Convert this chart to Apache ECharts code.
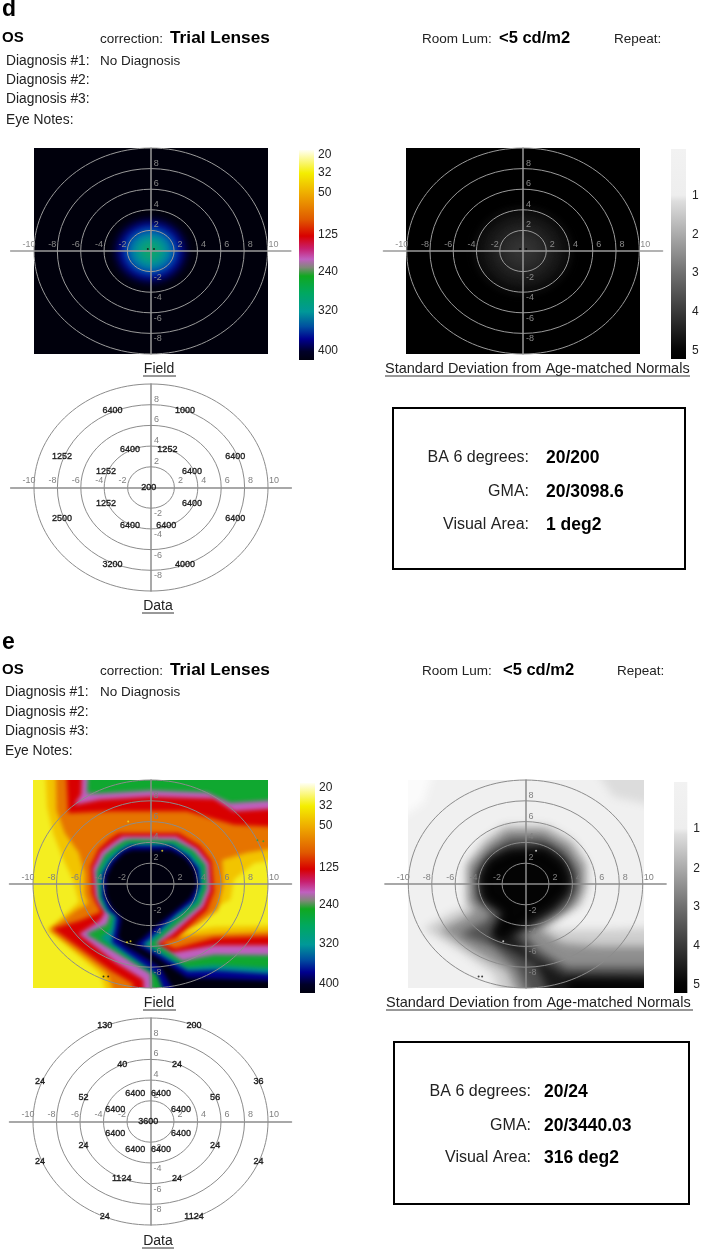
<!DOCTYPE html>
<html>
<head>
<meta charset="utf-8">
<style>
  html, body { margin: 0; padding: 0; background: #fff; }
  #chart { width: 703px; height: 1250px; }
</style>
<script src="https://cdn.jsdelivr.net/npm/echarts@6/dist/echarts.min.js"></script>
</head>
<body>
<div id="chart"></div>
<script>
// ---- data, all points in degrees of visual field ----
const ringRadii = [2, 4, 6, 8, 10];
const fullField = [[-10, -10], [10, -10], [10, 10], [-10, 10]];

// panel d, field and deviation map: soft blob round the fixation point
const fieldDLevels = [390, 370, 350, 330, 310, 285];
const fieldDRadii = [3.1, 2.7, 2.3, 1.8, 1.3, 0.8];
const devDLevels = [4.85, 4.7, 4.5, 4.3, 4.1, 3.95];
const devDRadii = [4.4, 3.8, 3.2, 2.6, 1.9, 1.1];

// panel e, field map contours
const fieldE45 = [[-9.1, 10], [-8.8, 7.4], [-8.3, 4.9], [-7.4, 2.3], [-6.6, 0.4], [-6.1, -1.7], [-7.1, -2.8], [-8.8, -4.4], [-4.3, -8.6], [-2.7, -10], [10, -10], [10, -3.9], [5.4, -4.1], [1.4, -4.9], [4.2, -3.1], [6.8, -1.5], [7.1, 0.4], [8.8, 2.0], [10, 3.0], [10, 10]];
const fieldE80 = [[-8.1, 10], [-8.0, 7.1], [-7.3, 4.9], [-6.1, 3.0], [-5.6, 1.0], [-5.6, -0.9], [-5.3, -1.9], [-6.3, -2.5], [-8.6, -4.4], [-3.7, -8.6], [-2.0, -10], [10, -10], [10, -4.4], [5.4, -4.8], [1.7, -5.2], [4.0, -3.9], [5.7, -2.5], [6.2, -0.1], [6.1, 2.3], [8.2, 3.0], [10, 4.1], [10, 10]];
const fieldE125Top = [[-7.3, 10], [-7.0, 6.8], [-3.4, 7.0], [3.1, 7.0], [7.1, 5.7], [10, 5.3], [10, 10]];
const fieldE125 = [[-2.7, 4.9], [2.4, 4.9], [4.2, 3.7], [5.2, 2.2], [5.4, -0.7], [4.8, -2.5], [3.4, -3.9], [2.2, -5.2], [0.8, -5.6], [2.1, -6.2], [5.4, -5.2], [10, -4.9], [10, -10], [-1.5, -10], [-1.5, -9.6], [-3.4, -8.3], [-8.3, -4.3], [-6.0, -3.5], [-4.2, -2.7], [-4.7, -1.7], [-5.0, -0.9], [-5.1, 1.7], [-4.4, 3.4], [-3.4, 4.4]];
const fieldE190Top = [[-5.7, 10], [-5.9, 8.6], [-6.5, 7.6], [-4.3, 8.1], [0, 8.4], [5.4, 8.2], [7.1, 7.0], [10, 7.5], [10, 10]];
const fieldE190 = [[-2.4, 4.6], [2.2, 4.6], [4.0, 3.4], [5.0, 2.0], [5.1, -0.6], [4.5, -2.2], [3.1, -3.6], [1.8, -4.9], [0.5, -5.8], [1.8, -6.6], [5.4, -5.9], [10, -5.9], [10, -10], [-0.5, -10], [-0.6, -9.2], [-2.9, -7.6], [-6.1, -4.8], [-4.3, -3.5], [-3.9, -2.7], [-4.4, -1.9], [-4.7, -1.1], [-4.9, 1.5], [-4.2, 3.1], [-3.2, 4.0]];
const fieldE250Top = [[-5.2, 10], [-5.4, 8.7], [-4.3, 8.7], [0, 9.0], [4.8, 8.8], [6.8, 7.8], [10, 8.3], [10, 10]];
const fieldE250 = [[-2.2, 4.2], [-1.5, 4.3], [2.1, 4.2], [3.7, 3.2], [4.7, 1.8], [4.8, -0.4], [4.2, -2.0], [2.8, -3.4], [1.5, -4.6], [0.4, -5.7], [1.4, -6.4], [2.7, -7.4], [5.4, -6.8], [10, -6.9], [10, -10], [0.3, -10], [0, -8.6], [-2.3, -7.0], [-5.5, -4.8], [-3.7, -3.9], [-3.4, -2.8], [-4.0, -2.2], [-4.4, -1.4], [-4.6, 1.2], [-3.9, 2.8], [-2.9, 3.7]];
const fieldE320 = [[-2.0, 3.9], [2.0, 3.9], [3.4, 3.0], [4.4, 1.7], [4.5, -0.3], [4.0, -1.8], [2.5, -3.1], [1.3, -4.4], [0.1, -5.6], [-0.3, -5.8], [1.1, -6.6], [3.0, -8.0], [5.4, -7.8], [10, -8.3], [10, -10], [1.7, -10], [1.4, -9.1], [-1.5, -7.3], [-4.3, -5.2], [-3.4, -4.4], [-3.2, -3.1], [-3.8, -2.6], [-4.2, -1.4], [-4.4, 1.0], [-3.7, 2.5], [-2.7, 3.4]];
const fieldE370 = [[-1.7, 3.7], [1.8, 3.7], [3.2, 2.7], [4.1, 1.5], [4.2, -0.2], [3.7, -1.6], [2.2, -2.9], [1.0, -4.2], [-0.2, -5.4], [-0.7, -5.8], [0.8, -6.8], [3.2, -8.4], [5.4, -8.3], [10, -8.9], [10, -10], [2.5, -10], [0.5, -8.6], [-2.2, -6.5], [-3.3, -5.6], [-3.0, -4.1], [-2.9, -3.1], [-3.6, -2.5], [-4.1, -1.2], [-4.1, 0.9], [-3.4, 2.2], [-2.5, 3.2]];
const fieldE400 = [[-1.6, 3.3], [1.7, 3.3], [3.0, 2.5], [3.8, 1.3], [4.0, -0.1], [3.4, -1.4], [2.0, -2.7], [0.7, -3.9], [-0.6, -5.2], [-1.3, -5.8], [0.5, -7.0], [3.1, -9.0], [10, -9.5], [10, -10], [4.0, -10], [0.8, -8.0], [-2.2, -5.9], [-2.8, -5.1], [-2.5, -3.3], [-3.3, -2.3], [-3.8, -1.1], [-3.8, 0.7], [-3.2, 2.0], [-2.3, 3.0]];

// panel e, deviation map contours
const devE07 = [[-10, 10], [-7, 10], [-8.7, 7.8], [-10, 3.9]];
const devE125 = [[4.1, 10], [10, 10], [10, 6.8], [7.5, 8.4]];
const devE15 = [[-1.9, 5.7], [1.9, 5.7], [4.1, 4.2], [5.3, 2.0], [5.3, -0.3], [4.8, -1.9], [3.2, -3.0], [1.8, -4.1], [2.9, -4.4], [7.2, -4.4], [10, -4.0], [10, -10], [-0.8, -10], [-2.8, -8.6], [-5.6, -6.4], [-8.7, -4.3], [-6.2, -2.7], [-5.0, -2.2], [-5.1, 1.7], [-3.6, 4.2]];
const devE25 = [[-1.6, 5.2], [1.6, 5.2], [3.8, 3.8], [5.0, 1.8], [5.0, -0.3], [4.4, -1.9], [2.6, -3.3], [1.2, -4.4], [3.2, -5.7], [6.3, -6.0], [10, -6.0], [10, -10], [0.7, -10], [-1.6, -8.3], [-4.5, -6.4], [-7.3, -4.4], [-5.0, -3.1], [-4.3, -2.5], [-4.9, -1.7], [-4.9, 1.8], [-3.2, 3.9]];
const devE35 = [[-1.3, 4.4], [1.4, 4.4], [3.2, 3.3], [4.4, 1.3], [4.4, -0.6], [3.5, -2.2], [1.5, -3.6], [-0.2, -4.8], [1.2, -6.4], [3.5, -8.0], [10, -8.0], [10, -10], [1.8, -10], [-0.8, -8.0], [-2.8, -6.0], [-5.6, -4.8], [-3.3, -3.5], [-2.9, -2.8], [-4.2, -1.5], [-4.3, 1.3], [-2.9, 3.3]];
const devE45 = [[-1.6, 3.4], [1.8, 3.6], [3.4, 2.3], [4.0, 0.7], [3.8, -0.9], [2.6, -2.3], [0.7, -3.8], [-1.1, -4.9], [0.7, -7.0], [3.5, -8.8], [10, -8.9], [10, -10], [3.5, -10], [0.9, -7.8], [-1.9, -5.9], [-3.0, -5.1], [-2.2, -3.3], [-1.9, -2.7], [-3.8, -1.4], [-4.0, 0.7], [-3.3, 2.3]];
const devE50 = [[-1.3, 3.1], [1.5, 3.3], [3.1, 2.0], [3.6, 0.5], [3.4, -0.7], [2.1, -2.2], [0.4, -3.3], [-1.5, -4.9], [-1.9, -5.4], [-2.8, -4.8], [-1.8, -2.8], [-3.5, -1.4], [-3.7, 0.7], [-3.0, 2.2]];
const devE50Corner = [[3.5, -9.2], [10, -9.4], [10, -10], [4.4, -10]];

// stray specks on the maps
const specksD = [[-0.25, 0.2], [0.28, 0.2]];
const specksFieldEYellow = [[-1.7, -5.5], [-2, -5.6], [1, 3.2], [-1.9, 6.0]];
const specksFieldEDark = [[-4, -8.9], [-3.6, -8.9]];
const specksFieldEGreen = [[9.1, 4.2], [9.6, 4.1]];
const specksDevELight = [[0.9, 3.2], [-1.9, -5.5]];
const specksDevEDark = [[-4, -8.9], [-3.7, -8.9]];

// threshold values printed on the data plots: x, y, value
const dataD = [
  [-3.3, 7.4, '6400'], [2.9, 7.4, '1000'], [-7.6, 3.0, '1252'], [7.2, 3.0, '6400'],
  [-1.8, 3.7, '6400'], [1.4, 3.7, '1252'], [-3.85, 1.55, '1252'], [3.5, 1.55, '6400'],
  [-0.2, 0, '200'], [-3.85, -1.55, '1252'], [3.5, -1.55, '6400'], [-1.8, -3.7, '6400'],
  [1.3, -3.7, '6400'], [-7.6, -3.0, '2500'], [7.2, -3.0, '6400'], [-3.3, -7.4, '3200'], [2.9, -7.4, '4000']
];
const dataE = [
  [-3.9, 9.25, '130'], [3.7, 9.25, '200'], [-2.4, 5.5, '40'], [2.26, 5.5, '24'],
  [-9.4, 3.9, '24'], [9.2, 3.9, '36'], [-5.7, 2.3, '52'], [5.5, 2.3, '56'],
  [-1.3, 2.75, '6400'], [0.9, 2.75, '6400'], [-3.0, 1.2, '6400'], [2.6, 1.2, '6400'],
  [-0.2, 0, '3600'], [-3.0, -1.13, '6400'], [2.6, -1.13, '6400'], [-1.3, -2.75, '6400'],
  [0.9, -2.75, '6400'], [-5.7, -2.3, '24'], [5.5, -2.3, '24'], [-9.4, -3.9, '24'],
  [9.2, -3.9, '24'], [-2.45, -5.5, '1124'], [2.26, -5.5, '24'], [-3.9, -9.2, '24'], [3.7, -9.2, '1124']
];

// colour bars
const fieldBarLabels = ['20', '32', '50', '125', '240', '320', '400'];
const fieldBarTicks = [0.024, 0.108, 0.204, 0.405, 0.58, 0.765, 0.955];
const devBarLabels = ['1', '2', '3', '4', '5'];
const devBarTicks = [0.22, 0.41, 0.59, 0.775, 0.96];

// ---- styles ----
const fieldColors = {
  32: '#f4ee20', 45: '#f2c400', 80: '#e67400', 125: '#d80000', 190: '#c060c0', 250: '#10a830', 285: '#12a468',
  310: '#009a90', 320: '#009090', 330: '#0080a8', 350: '#0048b0', 370: '#000090', 390: '#000048', 400: '#00000e', 420: '#00000c'
};
const devColors = {
  0.7: '#fbfbfb', 1: '#f0f0f0', 1.25: '#dcdcdc', 1.5: '#cecece', 2.5: '#8e8e8e', 3.5: '#505050', 3.95: '#343434', 4.1: '#2c2c2c',
  4.3: '#222222', 4.5: '#1a1a1a', 4.7: '#121212', 4.85: '#0a0a0a', 5: '#040404', 5.2: '#000000'
};
const fieldBarStops = [
  [0, '#fffff4'], [0.03, '#fdfbb0'], [0.11, '#f4ee00'], [0.21, '#eeaa00'], [0.33, '#e05a00'], [0.41, '#d80000'], [0.47, '#c82070'],
  [0.52, '#c060c0'], [0.56, '#808878'], [0.6, '#10a820'], [0.68, '#00a860'], [0.77, '#009898'], [0.84, '#0050a0'], [0.9, '#000090'],
  [0.96, '#000028'], [1, '#000010']
];
const devBarStops = [[0, '#f2f2f2'], [0.22, '#eeeeee'], [0.25, '#dddddd'], [0.41, '#aaaaaa'], [0.59, '#707070'], [0.78, '#383838'], [0.95, '#060606'], [1, '#000000']];

const FONT = '"Liberation Sans", Arial, sans-serif';
const GRID_GRAY = '#8c8c8c';
const OFFSCREEN = 3000; // shapes are drawn off canvas, only their blurred shadow lands on the map

const grid = [];
const xAxis = [];
const yAxis = [];
const series = [];

function hiddenAxis(gridIndex, min, max, inverse) {
  return { type: 'value', gridIndex, min, max, inverse: !!inverse, show: false };
}

// points on the map border are pushed past it so the blur does not fade at the edge
function pastEdge(v) {
  return Math.abs(v) === 10 ? v * 1.4 : v;
}

// image layer: exact -10..10 rectangle so the blur stays clipped inside it
function addMap(rect, bands, colors, blur) {
  const idx = grid.length;
  grid.push({ left: rect.x0, top: rect.y0, width: rect.x1 - rect.x0, height: rect.y1 - rect.y0 });
  xAxis.push(hiddenAxis(idx, -10, 10));
  yAxis.push(hiddenAxis(idx, -10, 10));
  series.push({
    type: 'custom',
    coordinateSystem: 'cartesian2d',
    xAxisIndex: idx,
    yAxisIndex: idx,
    clip: true,
    silent: true,
    z: 1,
    data: bands.map((b, i) => [0, 0, i]),
    renderItem(params, api) {
      const band = bands[params.dataIndex];
      const color = colors[band[0]];
      const style = { fill: color, shadowBlur: blur, shadowColor: color, shadowOffsetX: OFFSCREEN };
      if (band[2]) {
        const c = api.coord([0, 0]);
        const s = api.size([band[2], band[2]]);
        return { type: 'ellipse', shape: { cx: c[0] - OFFSCREEN, cy: c[1], rx: s[0], ry: s[1] }, style };
      }
      const points = band[1].map((p) => {
        const c = api.coord([pastEdge(p[0]), pastEdge(p[1])]);
        return [c[0] - OFFSCREEN, c[1]];
      });
      return { type: 'polygon', shape: { points }, style };
    },
  });
}

function signedLabel(limit) {
  return (v) => {
    if (v === 0 || Math.abs(v) > limit) return '';
    return v < 0 ? `{neg|${v}}` : `{pos|${v}}`;
  };
}

// axes cross and the isopter rings, axis runs out to +-12 horizontally
function addRings(rect, lineColor, tickColor, values, specks) {
  const idx = grid.length;
  const ppd = (rect.x1 - rect.x0) / 20;
  const cx = (rect.x0 + rect.x1) / 2;
  const height = rect.y1 - rect.y0;
  grid.push({ left: cx - 12 * ppd, top: rect.y0, width: 24 * ppd, height });
  xAxis.push({
    type: 'value', gridIndex: idx, min: -12, max: 12, interval: 2, z: 5,
    offset: -height / 2,
    axisLine: { onZero: false, lineStyle: { color: lineColor, width: 1.5 } },
    axisTick: { show: false },
    splitLine: { show: false },
    axisLabel: {
      inside: true,
      margin: 2,
      formatter: signedLabel(10),
      rich: {
        neg: { color: tickColor, fontSize: 9, fontFamily: FONT, padding: [0, 10, 0, 0] },
        pos: { color: tickColor, fontSize: 9, fontFamily: FONT, padding: [0, 0, 0, 12] },
      },
    },
  });
  yAxis.push({
    type: 'value', gridIndex: idx, min: -10, max: 10, interval: 2, z: 5,
    offset: -12 * ppd,
    axisLine: { onZero: false, lineStyle: { color: lineColor, width: 1.5 } },
    axisTick: { show: false },
    splitLine: { show: false },
    axisLabel: {
      inside: true,
      margin: 3,
      formatter: signedLabel(8),
      rich: {
        neg: { color: tickColor, fontSize: 9, fontFamily: FONT, padding: [11, 0, 0, 0] },
        pos: { color: tickColor, fontSize: 9, fontFamily: FONT, padding: [0, 0, 11, 0] },
      },
    },
  });
  series.push({
    type: 'custom',
    coordinateSystem: 'cartesian2d',
    xAxisIndex: idx,
    yAxisIndex: idx,
    silent: true,
    z: 6,
    data: ringRadii.map((r) => [0, 0, r]),
    renderItem(params, api) {
      const c = api.coord([0, 0]);
      const s = api.size([api.value(2), api.value(2)]);
      return {
        type: 'ellipse',
        shape: { cx: c[0], cy: c[1], rx: s[0], ry: s[1] },
        style: { fill: 'none', stroke: lineColor, lineWidth: 1 },
      };
    },
  });
  (specks || []).forEach((s) => {
    series.push({
      type: 'scatter',
      xAxisIndex: idx,
      yAxisIndex: idx,
      silent: true,
      z: 7,
      symbolSize: 2,
      itemStyle: { color: s.color },
      data: s.points,
    });
  });
  if (values) {
    series.push({
      type: 'scatter',
      xAxisIndex: idx,
      yAxisIndex: idx,
      silent: true,
      z: 7,
      symbolSize: 1,
      itemStyle: { color: 'transparent' },
      data: values,
      label: {
        show: true,
        position: 'inside',
        formatter: (p) => p.value[2],
        color: '#000',
        fontSize: 9,
        fontFamily: FONT,
        textBorderColor: '#000',
        textBorderWidth: 0.4,
      },
    });
  }
}

function addBar(x0, x1, y0, y1, stops, labels, ticks, margin) {
  const idx = grid.length;
  grid.push({ left: x0, top: y0, width: x1 - x0, height: y1 - y0 });
  xAxis.push(hiddenAxis(idx, 0, 1));
  yAxis.push({
    type: 'value', gridIndex: idx, min: 0, max: 1, inverse: true, position: 'right',
    axisLine: { show: false },
    axisTick: { show: false },
    splitLine: { show: false },
    axisLabel: {
      customValues: ticks,
      margin,
      color: '#222',
      fontSize: 12,
      fontFamily: FONT,
      formatter: (v) => labels[ticks.indexOf(v)],
    },
  });
  series.push({
    type: 'custom',
    coordinateSystem: 'cartesian2d',
    xAxisIndex: idx,
    yAxisIndex: idx,
    silent: true,
    data: [[0, 0, 1, 1]],
    renderItem(params, api) {
      const a = api.coord([0, 0]);
      const b = api.coord([1, 1]);
      return {
        type: 'rect',
        shape: { x: a[0], y: a[1], width: b[0] - a[0], height: b[1] - a[1] },
        style: {
          fill: new echarts.graphic.LinearGradient(0, 0, 0, 1, stops.map((s) => ({ offset: s[0], color: s[1] }))),
        },
      };
    },
  });
}

const fieldDBands = [[420, fullField]].concat(fieldDLevels.map((l, i) => [l, null, fieldDRadii[i]]));
const devDBands = [[5.2, fullField]].concat(devDLevels.map((l, i) => [l, null, devDRadii[i]]));
const fieldEBands = [
  [32, fullField], [45, fieldE45], [80, fieldE80], [125, fieldE125Top], [125, fieldE125], [190, fieldE190Top], [190, fieldE190],
  [250, fieldE250Top], [250, fieldE250], [320, fieldE320], [370, fieldE370], [400, fieldE400],
];
const devEBands = [
  [1, fullField], [0.7, devE07], [1.25, devE125], [1.5, devE15], [2.5, devE25], [3.5, devE35], [4.5, devE45], [5, devE50], [5, devE50Corner],
];

// panel d
const rectFieldD = { x0: 34, x1: 267.5, y0: 148, y1: 354 };
const rectDevD = { x0: 406.7, x1: 639.3, y0: 148, y1: 354 };
const rectDataD = { x0: 34, x1: 268, y0: 384, y1: 591 };
addMap(rectFieldD, fieldDBands, fieldColors, 8);
addRings(rectFieldD, '#9a9a9a', '#8a8a8a', null, [{ color: '#111', points: specksD }]);
addMap(rectDevD, devDBands, devColors, 10);
addRings(rectDevD, '#9a9a9a', '#8a8a8a', null, [{ color: '#000', points: specksD }]);
addRings(rectDataD, GRID_GRAY, '#808080', dataD);
addBar(299, 314, 150, 360, fieldBarStops, fieldBarLabels, fieldBarTicks, 4);
addBar(671, 686, 149, 359, devBarStops, devBarLabels, devBarTicks, 6);

// panel e
const rectFieldE = { x0: 33, x1: 268, y0: 780, y1: 988 };
const rectDevE = { x0: 408.3, x1: 642.7, y0: 780, y1: 988 };
const rectDataE = { x0: 33, x1: 268, y0: 1018, y1: 1225 };
addMap(rectFieldE, fieldEBands, fieldColors, 4);
addRings(rectFieldE, GRID_GRAY, '#808080', null, [
  { color: '#f0e020', points: specksFieldEYellow },
  { color: '#111', points: specksFieldEDark },
  { color: '#20a040', points: specksFieldEGreen },
]);
addMap(rectDevE, devEBands, devColors, 8);
addRings(rectDevE, GRID_GRAY, '#808080', null, [
  { color: '#eee', points: specksDevELight },
  { color: '#111', points: specksDevEDark },
]);
addRings(rectDataE, GRID_GRAY, '#808080', dataE);
addBar(300, 315, 783, 993, fieldBarStops, fieldBarLabels, fieldBarTicks, 4);
addBar(674, 690, 782, 993, devBarStops, devBarLabels, devBarTicks, 6);

// ---- page text ----
function text(str, x, y, size, weight, align) {
  return {
    type: 'text',
    x,
    y,
    style: {
      text: str,
      fill: weight === 'bold' ? '#000' : '#222',
      font: `${weight || 'normal'} ${size}px ${FONT}`,
      textAlign: align || 'left',
      textVerticalAlign: 'middle',
    },
  };
}
function rule(x0, x1, y) {
  return { type: 'line', shape: { x1: x0, y1: y, x2: x1, y2: y }, style: { stroke: '#333', lineWidth: 1 } };
}
function box(x, y, w, h) {
  return { type: 'rect', shape: { x, y, width: w, height: h }, style: { fill: 'none', stroke: '#000', lineWidth: 2 } };
}

const pageText = [
  text('d', 2, 10, 23, 'bold'),
  text('OS', 2, 38, 15, 'bold'),
  text('correction:', 100, 39, 13.5),
  text('Trial Lenses', 170, 38, 17.3, 'bold'),
  text('Room Lum:', 422, 39, 13.5),
  text('<5 cd/m2', 499, 38, 16.5, 'bold'),
  text('Repeat:', 614, 39, 13.5),
  text('Diagnosis #1:', 6, 61, 13.8),
  text('No Diagnosis', 100, 61, 13.5),
  text('Diagnosis #2:', 6, 80, 13.8),
  text('Diagnosis #3:', 6, 99, 13.8),
  text('Eye Notes:', 6, 120, 13.8),
  text('Field', 159, 369, 14, 'normal', 'center'), rule(143, 176, 376),
  text('Standard Deviation from Age-matched Normals', 385, 369, 14.5), rule(385, 690, 376),
  text('Data', 158, 606, 14, 'normal', 'center'), rule(142, 174, 613),
  box(393, 408, 292, 161),
  text('BA 6 degrees:', 529, 458, 16, 'normal', 'right'), text('20/200', 546, 458, 17.5, 'bold'),
  text('GMA:', 529, 492, 16, 'normal', 'right'), text('20/3098.6', 546, 492, 17.5, 'bold'),
  text('Visual Area:', 529, 525, 16, 'normal', 'right'), text('1 deg2', 546, 525, 17.5, 'bold'),

  text('e', 2, 643, 23, 'bold'),
  text('OS', 2, 670, 15, 'bold'),
  text('correction:', 100, 671, 13.5),
  text('Trial Lenses', 170, 670, 17.3, 'bold'),
  text('Room Lum:', 422, 671, 13.5),
  text('<5 cd/m2', 503, 670, 16.5, 'bold'),
  text('Repeat:', 617, 671, 13.5),
  text('Diagnosis #1:', 5, 692, 13.8),
  text('No Diagnosis', 100, 692, 13.5),
  text('Diagnosis #2:', 5, 712, 13.8),
  text('Diagnosis #3:', 5, 731, 13.8),
  text('Eye Notes:', 5, 751, 13.8),
  text('Field', 159, 1003, 14, 'normal', 'center'), rule(143, 176, 1010),
  text('Standard Deviation from Age-matched Normals', 386, 1003, 14.5), rule(386, 693, 1010),
  text('Data', 158, 1241, 14, 'normal', 'center'), rule(142, 174, 1248),
  box(394, 1042, 295, 162),
  text('BA 6 degrees:', 531, 1092, 16, 'normal', 'right'), text('20/24', 544, 1092, 17.5, 'bold'),
  text('GMA:', 531, 1126, 16, 'normal', 'right'), text('20/3440.03', 544, 1126, 17.5, 'bold'),
  text('Visual Area:', 531, 1158, 16, 'normal', 'right'), text('316 deg2', 544, 1158, 17.5, 'bold'),
];

const chart = echarts.init(document.getElementById('chart'));
chart.setOption({
  animation: false,
  backgroundColor: '#fff',
  grid,
  xAxis,
  yAxis,
  series,
  graphic: pageText,
});
</script>
</body>
</html>
